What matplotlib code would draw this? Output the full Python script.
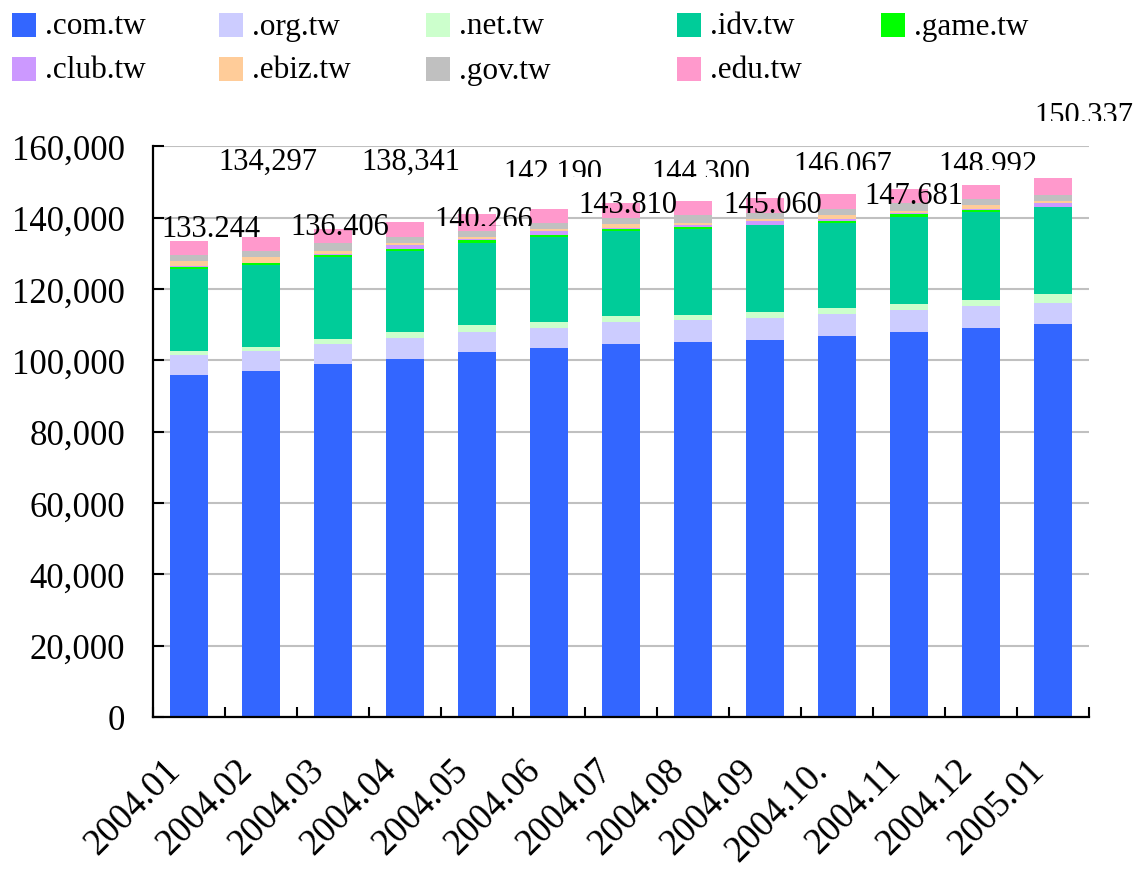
import matplotlib
matplotlib.use("Agg")
import matplotlib.pyplot as plt
from matplotlib.patches import Rectangle
from matplotlib.transforms import ScaledTranslation, Bbox, TransformedBbox
from matplotlib.ticker import FuncFormatter, FixedLocator
import numpy as np

plt.rcParams['font.family'] = ['Liberation Serif', 'DejaVu Serif']

# ---------------- data ----------------
months = ['2004.01', '2004.02', '2004.03', '2004.04', '2004.05', '2004.06', '2004.07',
          '2004.08', '2004.09', '2004.10.', '2004.11', '2004.12', '2005.01']
series_names = ['.com.tw', '.org.tw', '.net.tw', '.idv.tw', '.game.tw',
                '.club.tw', '.ebiz.tw', '.gov.tw', '.edu.tw']
com_tw = [95900, 97000, 99000, 100400, 102400, 103500, 104600, 105200, 105700, 106900, 108000, 109100, 110200]
org_tw = [5550, 5650, 5650, 5900, 5600, 5650, 6200, 6200, 6200, 6200, 6200, 6200, 5900]
net_tw = [1300, 1100, 1400, 1700, 1800, 1500, 1700, 1400, 1700, 1700, 1700, 1700, 2500]
idv_tw = [22800, 22900, 22850, 22600, 23050, 23900, 23700, 24000, 24250, 23700, 24250, 24550, 24250]
game_tw = [750, 650, 700, 500, 750, 500, 550, 550, 150, 550, 750, 500, 150]
club_tw = [150, 100, 300, 1200, 500, 1100, 300, 550, 1100, 550, 350, 350, 1100]
ebiz_tw = [1350, 1450, 700, 500, 450, 550, 1300, 550, 550, 1100, 550, 1150, 550]
gov_tw = [1700, 1700, 2250, 1750, 1700, 1700, 1600, 2150, 1700, 1700, 2250, 1600, 1700]
edu_tw = [3850, 3950, 3850, 4100, 4700, 3950, 4200, 3950, 4100, 4150, 3850, 3950, 4800]
total_labels = ['133.244', '134,297', '136.406', '138,341', '140.266', '142.190', '143.810',
                '144.300', '145.060', '146.067', '147.681', '148.992', '150.337']

# ---------------- style / layout ----------------
colors = ['#3366FF', '#CCCCFF', '#CCFFCC', '#00CC99', '#00FF00',
          '#CC99FF', '#FFCC99', '#C0C0C0', '#FF99CC']
# label baseline heights (data units), x offsets (px) and clip lines (px from top)
label_base_y = [134970, 153770, 135390, 153770, 137490, 150680, 141700,
                150680, 141700, 152930, 144230, 152930, 166400]
label_dx_px = [22, 7, 7, 6, 7, 4, 7, 8, 8, 6, 5, 7, 31]
label_clip_px = [None, None, None, None, 226.5, 178, None, 178, None, 170.5, None, 170.5, 122]

W, H = 1138, 870
fig = plt.figure(figsize=(W / 100, H / 100), dpi=100)
ax = fig.add_axes([153 / W, 1 - 718 / H, (1089 - 153) / W, (718 - 147.3) / H])

series = [com_tw, org_tw, net_tw, idv_tw, game_tw, club_tw, ebiz_tw, gov_tw, edu_tw]
x = np.arange(len(months))
bottom = np.zeros(len(months))
for vals, c in zip(series, colors):
    ax.bar(x, vals, bottom=bottom, width=0.53, color=c, zorder=2, linewidth=0)
    bottom += np.array(vals)

ax.set_xlim(-0.5, len(months) - 0.5)
ax.set_ylim(0, 160000)
ax.set_yticks(np.arange(0, 160001, 20000))
ax.yaxis.set_major_formatter(FuncFormatter(lambda v, p: f'{int(v):,}'))
ax.grid(axis='y', color='#C0C0C0', linewidth=1.5, zorder=0)
ax.set_axisbelow(True)

for s in ['top', 'right']:
    ax.spines[s].set_visible(False)
for s in ['left', 'bottom']:
    ax.spines[s].set_linewidth(1.6)
    ax.spines[s].set_color('black')

ax.tick_params(axis='y', direction='in', length=8, width=1.5, pad=20, labelsize=25)
ax.set_xticks(x)
ax.set_xticklabels(months, rotation=45, ha='right', va='center', rotation_mode='anchor')
ax.tick_params(axis='x', which='major', length=0, pad=34, labelsize=26.5)
ax.xaxis.set_minor_locator(FixedLocator(np.arange(-0.5, len(months), 1.0)))
ax.tick_params(axis='x', which='minor', direction='in', length=7, width=1.5)
shift = ScaledTranslation(-14 / 100, 0, fig.dpi_scale_trans)
for lbl in ax.get_xticklabels():
    lbl.set_transform(lbl.get_transform() + shift)

# data labels
for i, (t, yb, dx, cp) in enumerate(zip(total_labels, label_base_y, label_dx_px, label_clip_px)):
    tr = ax.transData + ScaledTranslation(dx / 100, 0, fig.dpi_scale_trans)
    txt = ax.text(x[i], yb, t, transform=tr, ha='center', va='baseline',
                  fontsize=22, clip_on=False, zorder=5)
    if cp is not None:
        txt.set_clip_path(None)
        txt.set_clip_box(TransformedBbox(Bbox([[0, 1 - cp / H], [1, 1]]), fig.transFigure))
        txt.set_clip_on(True)

# legend (manual, 2 rows x 5 cols)
leg_x = [12, 219, 426, 677, 881, 12, 219, 426, 677]
leg_y = [14, 14, 14, 14, 14, 58, 58, 58, 58]
for name, c, lx, ly in zip(series_names, colors, leg_x, leg_y):
    fig.add_artist(Rectangle((lx / W, 1 - (ly + 24) / H), 24 / W, 24 / H,
                             transform=fig.transFigure, color=c, lw=0))
    fig.text((lx + 33) / W, 1 - (ly + 13) / H, name, fontsize=22.5,
             ha='left', va='center')

fig.savefig('out.png', dpi=100)
